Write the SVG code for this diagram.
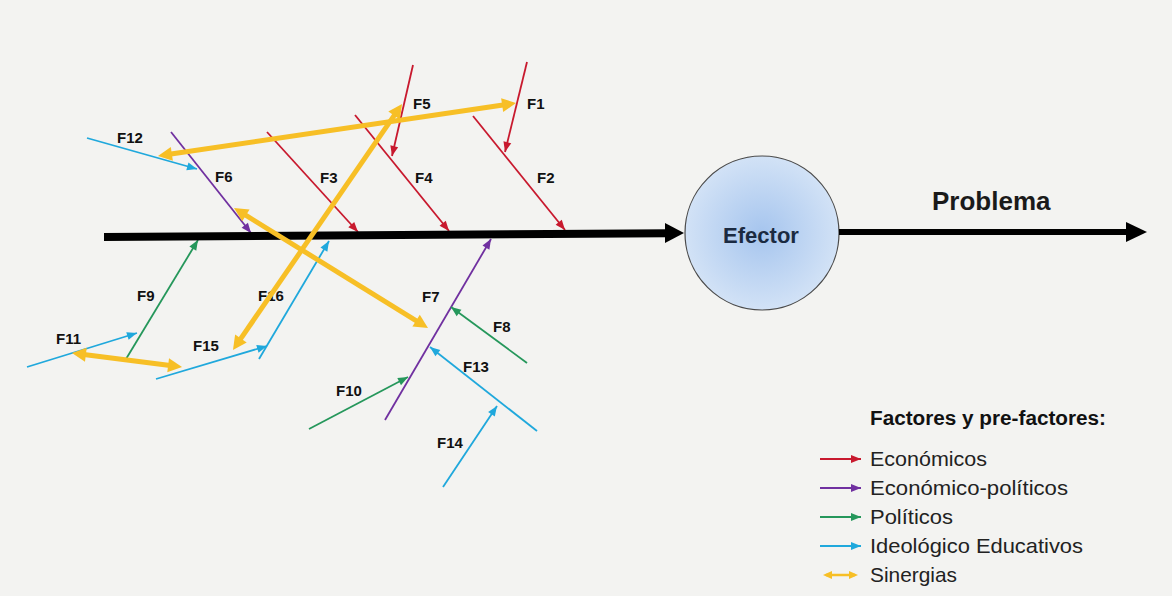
<svg xmlns="http://www.w3.org/2000/svg" width="1172" height="596" viewBox="0 0 1172 596">
<style>
.lbl{font-family:"Liberation Sans",Arial,sans-serif;font-weight:bold;font-size:15px;fill:#111}
.leg{font-family:"Liberation Sans",Arial,sans-serif;font-size:21px;fill:#222}
.legh{font-family:"Liberation Sans",Arial,sans-serif;font-weight:bold;font-size:20px;fill:#111}
.thin{stroke-width:1.8;fill:none}
.red{stroke:#c8192e;marker-end:url(#mr)}
.pur{stroke:#7030a0;marker-end:url(#mp)}
.grn{stroke:#25975b;marker-end:url(#mg)}
.cyn{stroke:#1fa8dc;marker-end:url(#mc)}
.syn{stroke:#f7bf26;stroke-width:5;fill:none;marker-start:url(#my);marker-end:url(#my)}
.legs{stroke:#f7bf26;stroke-width:2.5;fill:none;marker-start:url(#mys);marker-end:url(#mys)}
</style>
<defs>
<radialGradient id="gc" cx="50%" cy="50%" r="50%">
<stop offset="0" stop-color="#a6c5ee"/>
<stop offset="1" stop-color="#d2e2f6"/>
</radialGradient>
<marker id="mr" markerUnits="userSpaceOnUse" markerWidth="10" markerHeight="8" refX="10" refY="4" orient="auto" overflow="visible"><path d="M0,0 L10,4 L0,8 z" fill="#c8192e"/></marker>
<marker id="mp" markerUnits="userSpaceOnUse" markerWidth="10" markerHeight="8" refX="10" refY="4" orient="auto" overflow="visible"><path d="M0,0 L10,4 L0,8 z" fill="#7030a0"/></marker>
<marker id="mg" markerUnits="userSpaceOnUse" markerWidth="10" markerHeight="8" refX="10" refY="4" orient="auto" overflow="visible"><path d="M0,0 L10,4 L0,8 z" fill="#25975b"/></marker>
<marker id="mc" markerUnits="userSpaceOnUse" markerWidth="10" markerHeight="8" refX="10" refY="4" orient="auto" overflow="visible"><path d="M0,0 L10,4 L0,8 z" fill="#1fa8dc"/></marker>
<marker id="my" markerUnits="userSpaceOnUse" markerWidth="14" markerHeight="14" refX="6" refY="7" orient="auto-start-reverse" overflow="visible"><path d="M0,0 L14,7 L0,14 z" fill="#f7bf26"/></marker>
<marker id="mys" markerUnits="userSpaceOnUse" markerWidth="9" markerHeight="8" refX="6" refY="4" orient="auto-start-reverse" overflow="visible"><path d="M0,0 L9,4 L0,8 z" fill="#f7bf26"/></marker>
</defs>
<rect width="1172" height="596" fill="#f3f3f1"/>

<g id="f1"><line class="thin red" x1="527" y1="62" x2="505" y2="152"/><text class="lbl" x="527" y="109">F1</text></g>
<g id="f2"><line class="thin red" x1="473" y1="116" x2="565" y2="230"/><text class="lbl" x="537" y="183">F2</text></g>
<g id="f3"><line class="thin red" x1="267" y1="132" x2="358" y2="232"/><text class="lbl" x="320" y="183">F3</text></g>
<g id="f4"><line class="thin red" x1="355" y1="115" x2="449" y2="231"/><text class="lbl" x="415" y="183">F4</text></g>
<g id="f5"><line class="thin red" x1="413" y1="65" x2="392" y2="156"/><text class="lbl" x="413" y="109">F5</text></g>
<g id="f6"><line class="thin pur" x1="171" y1="132" x2="251" y2="233"/><text class="lbl" x="215" y="182">F6</text></g>
<g id="f7"><line class="thin pur" x1="385" y1="420" x2="491" y2="239"/><text class="lbl" x="422" y="302">F7</text></g>
<g id="f8"><line class="thin grn" x1="527" y1="363" x2="451" y2="307"/><text class="lbl" x="493" y="332">F8</text></g>
<g id="f9"><line class="thin grn" x1="126" y1="359" x2="198" y2="240"/><text class="lbl" x="137" y="301">F9</text></g>
<g id="f10"><line class="thin grn" x1="309" y1="429" x2="408" y2="377"/><text class="lbl" x="336" y="396">F10</text></g>
<g id="f11"><line class="thin cyn" x1="27" y1="367" x2="137" y2="333"/><text class="lbl" x="56" y="344">F11</text></g>
<g id="f12"><line class="thin cyn" x1="87" y1="138" x2="197" y2="169"/><text class="lbl" x="117" y="143">F12</text></g>
<g id="f13"><line class="thin cyn" x1="537" y1="431" x2="430" y2="347"/><text class="lbl" x="463" y="372">F13</text></g>
<g id="f14"><line class="thin cyn" x1="443" y1="487" x2="497" y2="406"/><text class="lbl" x="437" y="448">F14</text></g>
<g id="f15"><line class="thin cyn" x1="156" y1="379" x2="267" y2="346"/><text class="lbl" x="193" y="351">F15</text></g>
<g id="f16"><line class="thin cyn" x1="259" y1="359" x2="329" y2="241"/><text class="lbl" x="258" y="301">F16</text></g>

<g id="efector">
<circle cx="762" cy="233" r="77" fill="url(#gc)" stroke="#4a4a4a" stroke-width="1.2"/>
<text x="761" y="243" text-anchor="middle" font-family="Liberation Sans, Arial, sans-serif" font-weight="bold" font-size="22" fill="#1b2a41">Efector</text>
</g>
<g id="problema">
<text x="932" y="210" font-family="Liberation Sans, Arial, sans-serif" font-weight="bold" font-size="26" fill="#1a1a1a">Problema</text>
</g>

<g id="connectors">
<line x1="104" y1="237" x2="668" y2="233.2" stroke="#000" stroke-width="8"/>
<polygon points="665,223 684,233 665,243" fill="#000"/>
<line x1="839" y1="232" x2="1128" y2="232" stroke="#000" stroke-width="6"/>
<polygon points="1126,222 1147,232 1126,242" fill="#000"/>
<line class="syn" x1="165.9" y1="154.8" x2="508.1" y2="104.2"/>
<line class="syn" x1="237.5" y1="343.4" x2="397.5" y2="110.6"/>
<line class="syn" x1="240.8" y1="212.2" x2="421.2" y2="323.8"/>
<line class="syn" x1="79.9" y1="354" x2="174.1" y2="366"/>
</g>

<g id="legend">
<text class="legh" x="870" y="425" textLength="236" lengthAdjust="spacingAndGlyphs">Factores y pre-factores:</text>
<line class="thin red" x1="820" y1="459" x2="861" y2="459"/>
<text class="leg" x="870" y="466" textLength="117" lengthAdjust="spacingAndGlyphs">Económicos</text>
<line class="thin pur" x1="820" y1="488" x2="861" y2="488"/>
<text class="leg" x="870" y="495" textLength="198" lengthAdjust="spacingAndGlyphs">Económico-políticos</text>
<line class="thin grn" x1="820" y1="517" x2="861" y2="517"/>
<text class="leg" x="870" y="524" textLength="83" lengthAdjust="spacingAndGlyphs">Políticos</text>
<line class="thin cyn" x1="820" y1="546" x2="861" y2="546"/>
<text class="leg" x="870" y="553" textLength="213" lengthAdjust="spacingAndGlyphs">Ideológico Educativos</text>
<line class="legs" x1="826" y1="575" x2="855" y2="575"/>
<text class="leg" x="870" y="582" textLength="87" lengthAdjust="spacingAndGlyphs">Sinergias</text>
</g>
</svg>
